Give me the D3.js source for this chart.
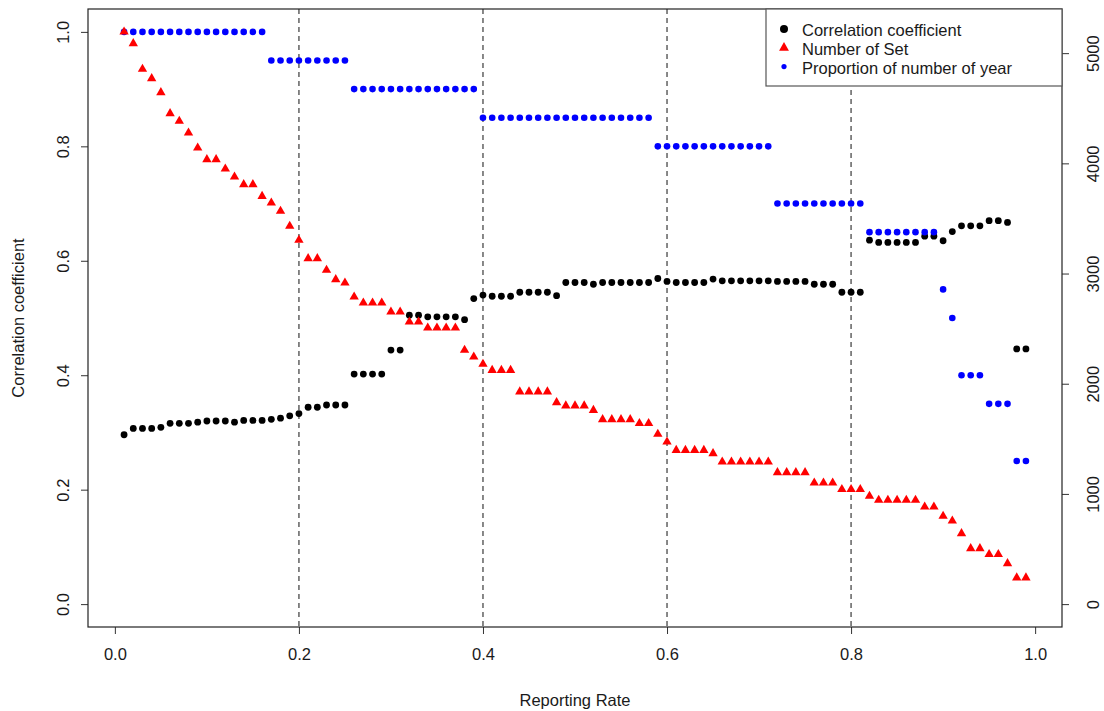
<!DOCTYPE html>
<html lang="en">
<head>
    <title>Reporting Rate</title>
    <script src="https://d3js.org/d3.v7.min.js"></script>
    <style>
        body { margin: 0; background: #fff; }
        text { font-family: "Liberation Sans", Arial, sans-serif; fill: #1a1a1a; }
        .axis text { font-size: 16.5px; }
        .axis line { stroke: #333; }
    </style>
</head>
<body>

<script>
    // x values (reporting rate)
    const reportingRate = [
        0.01, 0.02, 0.03, 0.04, 0.05, 0.06, 0.07, 0.08, 0.09, 0.10,
        0.11, 0.12, 0.13, 0.14, 0.15, 0.16, 0.17, 0.18, 0.19, 0.20,
        0.21, 0.22, 0.23, 0.24, 0.25, 0.26, 0.27, 0.28, 0.29, 0.30,
        0.31, 0.32, 0.33, 0.34, 0.35, 0.36, 0.37, 0.38, 0.39, 0.40,
        0.41, 0.42, 0.43, 0.44, 0.45, 0.46, 0.47, 0.48, 0.49, 0.50,
        0.51, 0.52, 0.53, 0.54, 0.55, 0.56, 0.57, 0.58, 0.59, 0.60,
        0.61, 0.62, 0.63, 0.64, 0.65, 0.66, 0.67, 0.68, 0.69, 0.70,
        0.71, 0.72, 0.73, 0.74, 0.75, 0.76, 0.77, 0.78, 0.79, 0.80,
        0.81, 0.82, 0.83, 0.84, 0.85, 0.86, 0.87, 0.88, 0.89, 0.90,
        0.91, 0.92, 0.93, 0.94, 0.95, 0.96, 0.97, 0.98, 0.99
    ];

    const correlation = [
        0.296, 0.307, 0.307, 0.307, 0.309, 0.316, 0.316, 0.316, 0.318, 0.320,
        0.320, 0.320, 0.318, 0.321, 0.321, 0.321, 0.323, 0.325, 0.329, 0.333,
        0.344, 0.344, 0.348, 0.348, 0.348, 0.402, 0.402, 0.402, 0.402, 0.444,
        0.444, 0.505, 0.505, 0.502, 0.502, 0.502, 0.502, 0.497, 0.534, 0.540,
        0.538, 0.538, 0.538, 0.545, 0.545, 0.545, 0.545, 0.539, 0.562, 0.562,
        0.562, 0.559, 0.562, 0.562, 0.562, 0.562, 0.562, 0.562, 0.569, 0.564,
        0.562, 0.562, 0.562, 0.562, 0.568, 0.565, 0.565, 0.565, 0.565, 0.565,
        0.565, 0.564, 0.564, 0.564, 0.564, 0.559, 0.559, 0.559, 0.545, 0.545,
        0.545, 0.636, 0.632, 0.632, 0.632, 0.632, 0.632, 0.643, 0.643, 0.635,
        0.651, 0.661, 0.661, 0.661, 0.670, 0.670, 0.667, 0.446, 0.446
    ];

    const numberOfSet = [
        5193, 5088, 4855, 4770, 4643, 4453, 4383, 4277, 4141, 4035,
        4035, 3950, 3877, 3808, 3808, 3702, 3642, 3566, 3430, 3303,
        3137, 3137, 3031, 2946, 2916, 2789, 2734, 2734, 2734, 2652,
        2652, 2562, 2562, 2507, 2507, 2507, 2507, 2305, 2244, 2178,
        2123, 2123, 2123, 1927, 1927, 1927, 1927, 1830, 1800, 1800,
        1800, 1760, 1676, 1676, 1676, 1676, 1640, 1640, 1543, 1473,
        1397, 1397, 1397, 1397, 1367, 1291, 1291, 1291, 1291, 1291,
        1291, 1195, 1195, 1195, 1195, 1101, 1101, 1101, 1041, 1041,
        1041, 980, 944, 944, 944, 944, 944, 883, 883, 799,
        756, 641, 505, 505, 451, 451, 369, 239, 239
    ];

    const proportionYear = [
        1, 1, 1, 1, 1, 1, 1, 1, 1, 1,
        1, 1, 1, 1, 1, 1, 0.95, 0.95, 0.95, 0.95,
        0.95, 0.95, 0.95, 0.95, 0.95, 0.90, 0.90, 0.90, 0.90, 0.90,
        0.90, 0.90, 0.90, 0.90, 0.90, 0.90, 0.90, 0.90, 0.90, 0.85,
        0.85, 0.85, 0.85, 0.85, 0.85, 0.85, 0.85, 0.85, 0.85, 0.85,
        0.85, 0.85, 0.85, 0.85, 0.85, 0.85, 0.85, 0.85, 0.80, 0.80,
        0.80, 0.80, 0.80, 0.80, 0.80, 0.80, 0.80, 0.80, 0.80, 0.80,
        0.80, 0.70, 0.70, 0.70, 0.70, 0.70, 0.70, 0.70, 0.70, 0.70,
        0.70, 0.65, 0.65, 0.65, 0.65, 0.65, 0.65, 0.65, 0.65, 0.55,
        0.50, 0.40, 0.40, 0.40, 0.35, 0.35, 0.35, 0.25, 0.25
    ];

    const xTicks = [0, 0.2, 0.4, 0.6, 0.8, 1.0];
    const leftTicks = [0, 0.2, 0.4, 0.6, 0.8, 1.0];
    const rightTicks = [0, 1000, 2000, 3000, 4000, 5000];
    const refLines = [0.2, 0.4, 0.6, 0.8];
    const legendItems = ["Correlation coefficient", "Number of Set", "Proportion of number of year"];

    const W = 1104, H = 711;
    const box = {left: 88, right: 1062, top: 9, bottom: 627};

    // R style 4% padding on the data range
    const xPad = (0.99 - 0.01) * 0.04;
    const x = d3.scaleLinear().domain([0.01 - xPad, 0.99 + xPad]).range([box.left, box.right]);
    const yLeft = d3.scaleLinear().domain([-0.04, 1.04]).range([box.bottom, box.top]);
    const setMax = d3.max(numberOfSet);
    const yRight = d3.scaleLinear().domain([-0.04 * setMax, 1.04 * setMax]).range([box.bottom, box.top]);

    const svg = d3.select("body").append("svg").attr("width", W).attr("height", H);

    // dashed reference lines
    svg.append("g").selectAll("line")
            .data(refLines).join("line")
            .attr("x1", d => x(d)).attr("x2", d => x(d))
            .attr("y1", box.top).attr("y2", box.bottom)
            .attr("stroke", "#6b6b6b").attr("stroke-width", 1.6)
            .attr("stroke-dasharray", "5,4");

    // axes
    const gx = svg.append("g").attr("class", "axis")
            .attr("transform", `translate(0,${box.bottom})`)
            .call(d3.axisBottom(x).tickValues(xTicks).tickFormat(d3.format(".1f"))
                    .tickSize(7).tickPadding(14).tickSizeOuter(0));
    gx.select(".domain").remove();

    const gl = svg.append("g").attr("class", "axis")
            .attr("transform", `translate(${box.left},0)`)
            .call(d3.axisLeft(yLeft).tickValues(leftTicks).tickFormat(d3.format(".1f"))
                    .tickSize(7).tickSizeOuter(0));
    gl.select(".domain").remove();
    gl.selectAll("text")
            .attr("transform", "rotate(-90)")
            .attr("x", 0).attr("y", -25).attr("dy", null)
            .attr("text-anchor", "middle").attr("dominant-baseline", "central");

    const gr = svg.append("g").attr("class", "axis")
            .attr("transform", `translate(${box.right},0)`)
            .call(d3.axisRight(yRight).tickValues(rightTicks).tickFormat(d3.format("d"))
                    .tickSize(7).tickSizeOuter(0));
    gr.select(".domain").remove();
    gr.selectAll("text")
            .attr("transform", "rotate(-90)")
            .attr("x", 0).attr("y", 31).attr("dy", null)
            .attr("text-anchor", "middle").attr("dominant-baseline", "central");

    // plot frame
    svg.append("rect")
            .attr("x", box.left).attr("y", box.top)
            .attr("width", box.right - box.left).attr("height", box.bottom - box.top)
            .attr("fill", "none").attr("stroke", "#222").attr("stroke-width", 1.2);

    // axis titles
    svg.append("text")
            .attr("x", (box.left + box.right) / 2).attr("y", 706)
            .attr("text-anchor", "middle").style("font-size", "16.5px")
            .text("Reporting Rate");
    svg.append("text")
            .attr("transform", `translate(18,${(box.top + box.bottom) / 2}) rotate(-90)`)
            .attr("text-anchor", "middle").attr("dominant-baseline", "central")
            .style("font-size", "16.5px")
            .text("Correlation coefficient");

    const tri = d3.symbol().type(d3.symbolTriangle).size(38);

    // correlation points
    svg.append("g").selectAll("circle")
            .data(correlation).join("circle")
            .attr("cx", (d, i) => x(reportingRate[i]))
            .attr("cy", d => yLeft(d))
            .attr("r", 3.4).attr("fill", "#000");

    // proportion of years
    svg.append("g").selectAll("circle")
            .data(proportionYear).join("circle")
            .attr("cx", (d, i) => x(reportingRate[i]))
            .attr("cy", d => yLeft(d))
            .attr("r", 3.3).attr("fill", "#0000ff");

    // number of sets (right axis)
    svg.append("g").selectAll("path")
            .data(numberOfSet).join("path")
            .attr("d", tri)
            .attr("transform", (d, i) => `translate(${x(reportingRate[i])},${yRight(d)})`)
            .attr("fill", "#ff0000");

    // legend
    const lg = svg.append("g");
    lg.append("rect")
            .attr("x", 766).attr("y", box.top)
            .attr("width", box.right - 766).attr("height", 77)
            .attr("fill", "#fff").attr("stroke", "#555").attr("stroke-width", 1.2);
    const rows = lg.selectAll("g.item")
            .data(legendItems).join("g").attr("class", "item")
            .attr("transform", (d, i) => `translate(784,${30 + i * 18.8})`);
    rows.append("text")
            .attr("x", 18).attr("dominant-baseline", "central")
            .style("font-size", "16.5px")
            .text(d => d);
    rows.filter((d, i) => i === 0).append("circle").attr("r", 4).attr("cy", -1).attr("fill", "#000");
    rows.filter((d, i) => i === 1).append("path")
            .attr("d", d3.symbol().type(d3.symbolTriangle).size(42))
            .attr("transform", "translate(0,-1)").attr("fill", "#ff0000");
    rows.filter((d, i) => i === 2).append("circle").attr("r", 2.6).attr("cy", -1).attr("fill", "#0000ff");
</script>

</body>
</html>
